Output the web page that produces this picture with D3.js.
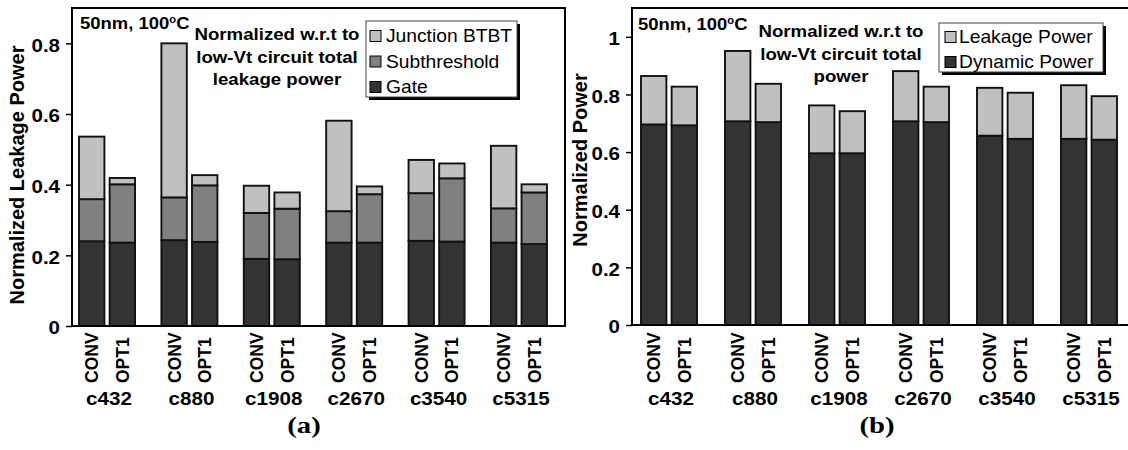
<!DOCTYPE html>
<html>
<head>
<meta charset="utf-8">
<script src="https://cdn.jsdelivr.net/npm/d3@7"></script>
<style>
  html, body { margin: 0; padding: 0; background: #fff; }
  svg { display: block; }
  text { font-family: "Liberation Sans", Arial, sans-serif; fill: #000; }
</style>
</head>
<body>
<svg id="chart" width="1128" height="450"></svg>
<script>
// ---------------- data ----------------
const circuits = ["c432", "c880", "c1908", "c2670", "c3540", "c5315"];
const designs = ["CONV", "OPT1"];

// Panel (a): normalized leakage components, per circuit [CONV, OPT1]
const gateLeak      = [[0.240, 0.236], [0.243, 0.238], [0.190, 0.189], [0.236, 0.236], [0.241, 0.239], [0.236, 0.232]];
const subLeak       = [[0.119, 0.165], [0.121, 0.160], [0.130, 0.143], [0.089, 0.137], [0.135, 0.179], [0.097, 0.146]];
const junctionLeak  = [[0.177, 0.018], [0.436, 0.029], [0.077, 0.046], [0.256, 0.022], [0.094, 0.042], [0.177, 0.023]];
const leakKeys   = ["Gate", "Subthreshold", "Junction BTBT"];
const leakColors = ["#333333", "#808080", "#c0c0c0"];
const yTicksA = [0, 0.2, 0.4, 0.6, 0.8];

// Panel (b): normalized total power, per circuit [CONV, OPT1]
const dynamicPower = [[0.696, 0.693], [0.707, 0.704], [0.596, 0.596], [0.707, 0.704], [0.657, 0.646], [0.646, 0.643]];
const leakagePower = [[0.168, 0.134], [0.244, 0.133], [0.166, 0.146], [0.174, 0.123], [0.166, 0.160], [0.186, 0.151]];
const powKeys   = ["Dynamic Power", "Leakage Power"];
const powColors = ["#333333", "#c0c0c0"];
const yTicksB = [0, 0.2, 0.4, 0.6, 0.8, 1];

const annotA = ["Normalized w.r.t to", "low-Vt circuit total", "leakage power"];
const annotB = ["Normalized w.r.t to", "low-Vt circuit total", "power"];

// ---------------- drawing ----------------
const svg = d3.select("#chart");
const fmt = d3.format("~g");

function panel(cfg) {
  const g = svg.append("g");
  const x0 = d3.scaleBand().domain(circuits)
    .range([cfg.left, cfg.right]).paddingInner(cfg.pIn).paddingOuter(cfg.pOut).align(cfg.align);
  const x1 = d3.scaleBand().domain(designs).range([0, x0.bandwidth()]).paddingInner(0.17);
  const y = d3.scaleLinear().domain([0, cfg.ymax]).range([cfg.bottom, cfg.top]);

  // rows
  const rows = [];
  circuits.forEach((c, i) => designs.forEach((d, j) => {
    const r = { circuit: c, design: d };
    cfg.keys.forEach((k, ki) => { r[k] = cfg.series[ki][i][j]; });
    rows.push(r);
  }));
  const stacked = d3.stack().keys(cfg.keys)(rows);

  // bars
  stacked.forEach((layer, li) => {
    g.append("g").selectAll("rect").data(layer).join("rect")
      .attr("x", d => x0(d.data.circuit) + x1(d.data.design))
      .attr("width", x1.bandwidth())
      .attr("y", d => y(d[1]))
      .attr("height", d => y(d[0]) - y(d[1]))
      .attr("fill", cfg.colors[li])
      .attr("stroke", "#111")
      .attr("stroke-width", 1.9);
  });

  // frame
  g.append("path")
    .attr("d", `M${cfg.left},${cfg.bottom}V${cfg.top}H${cfg.frameRight}V${cfg.bottom}`)
    .attr("fill", "none").attr("stroke", "#000").attr("stroke-width", 2);
  g.append("line").attr("x1", cfg.left - 1).attr("x2", cfg.frameRight + 1)
    .attr("y1", cfg.bottom).attr("y2", cfg.bottom)
    .attr("stroke", "#000").attr("stroke-width", 2);

  // y axis
  const ax = g.append("g").attr("transform", `translate(${cfg.left},0)`)
    .call(d3.axisLeft(y).tickValues(cfg.ticks).tickFormat(fmt).tickSize(6).tickPadding(11));
  ax.select(".domain").remove();
  ax.selectAll(".tick line").attr("stroke", "#000").attr("stroke-width", 1.5);
  ax.selectAll(".tick text")
    .attr("x", null).attr("dy", null)
    .attr("transform", "translate(-12,1) scale(1.08,1)")
    .attr("dominant-baseline", "central")
    .style("font-family", '"Liberation Sans", Arial, sans-serif')
    .style("font-size", "19px").style("font-weight", "bold").attr("fill", "#000");

  // y label
  g.append("text")
    .attr("transform", `translate(${cfg.ylabX},${cfg.ylabY}) rotate(-90)`)
    .attr("text-anchor", "middle")
    .style("font-size", "20px").style("font-weight", "bold")
    .text(cfg.ylabel);

  // bar labels
  rows.forEach(r => {
    const cx = x0(r.circuit) + x1(r.design) + x1.bandwidth() / 2;
    g.append("text")
      .attr("transform", `translate(${cx + 6.5},383) rotate(-90)`)
      .attr("text-anchor", "start")
      .style("font-size", "17.5px").style("font-weight", "bold")
      .text(r.design);
  });
  // group labels
  circuits.forEach(c => {
    const cx = x0(c) + x0.bandwidth() / 2;
    g.append("text")
      .attr("transform", `translate(${cx + 2},405) scale(1.18,1)`)
      .attr("text-anchor", "middle")
      .style("font-size", "17.5px").style("font-weight", "bold")
      .text(c);
  });

  // condition text
  const cond = g.append("text")
    .attr("transform", `translate(${cfg.condX},${cfg.condY}) scale(1.12,1)`)
    .style("font-size", "16.5px").style("font-weight", "bold");
  cond.append("tspan").text("50nm, 100");
  cond.append("tspan").attr("dy", -6).style("font-size", "10px").text("o");
  cond.append("tspan").attr("dy", 6).text("C");

  // annotation
  cfg.annot.forEach((t, i) => {
    g.append("text")
      .attr("transform", `translate(${cfg.annX},${cfg.annY + i * 22.5}) scale(1.13,1)`)
      .attr("text-anchor", "middle")
      .style("font-size", "16.5px").style("font-weight", "bold")
      .text(t);
  });

  // legend
  const L = cfg.legend;
  g.append("rect").attr("x", L.x + 3).attr("y", L.y + 3).attr("width", L.w).attr("height", L.h)
    .attr("fill", "#000");
  g.append("rect").attr("x", L.x).attr("y", L.y).attr("width", L.w).attr("height", L.h)
    .attr("fill", "#fff").attr("stroke", "#444").attr("stroke-width", 1);
  L.items.forEach((it, i) => {
    const cy = L.y + L.first + i * L.step;
    g.append("rect").attr("x", L.x + L.sw).attr("y", cy - 5.5).attr("width", 11).attr("height", 11)
      .attr("fill", cfg.colors[it]).attr("stroke", "#000").attr("stroke-width", 1);
    g.append("text")
      .attr("transform", `translate(${L.x + L.tx},${cy}) scale(1.1,1)`)
      .attr("dominant-baseline", "central")
      .style("font-size", "17.5px")
      .text(cfg.keys[it]);
  });

  // panel caption
  g.append("text")
    .attr("transform", `translate(${cfg.capX},433) scale(1.25,1)`)
    .attr("text-anchor", "middle")
    .style("font-family", '"Liberation Serif", "Times New Roman", serif')
    .style("font-size", "23px").style("font-weight", "bold")
    .text(cfg.caption);
}

panel({
  left: 72, right: 565, frameRight: 565, top: 8, bottom: 326, ymax: 0.9,
  pIn: 0.32, pOut: 0.152, align: 0.28,
  keys: leakKeys, colors: leakColors, series: [gateLeak, subLeak, junctionLeak],
  ticks: yTicksA, ylabel: "Normalized Leakage Power", ylabX: 24, ylabY: 175,
  condX: 80, condY: 29, annot: annotA, annX: 277, annY: 40,
  legend: { x: 366, y: 21, w: 151, h: 76, first: 15, step: 25.5, sw: 4, tx: 20, items: [2, 1, 0] },
  capX: 304, caption: "(a)"
});

panel({
  left: 632, right: 1128, frameRight: 1130, top: 8, bottom: 325, ymax: 1.1,
  pIn: 0.333, pOut: 0.119, align: 0.45,
  keys: powKeys, colors: powColors, series: [dynamicPower, leakagePower],
  ticks: yTicksB, ylabel: "Normalized Power", ylabX: 587, ylabY: 160,
  condX: 638, condY: 30, annot: annotB, annX: 841, annY: 37,
  legend: { x: 939, y: 23, w: 164, h: 49, first: 14, step: 25, sw: 6, tx: 20, items: [1, 0] },
  capX: 877, caption: "(b)"
});
</script>
</body>
</html>
